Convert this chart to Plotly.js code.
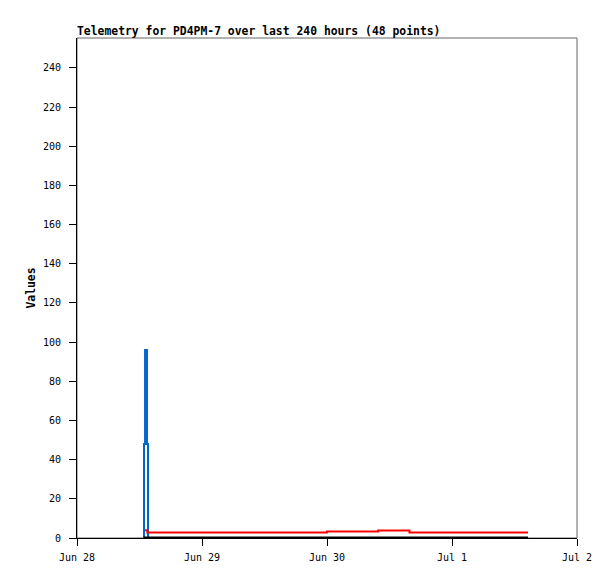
<!DOCTYPE html>
<html><head><meta charset="utf-8">
<script src="https://cdn.plot.ly/plotly-3.0.1.min.js"></script>
<style>body{margin:0;background:#fff}#c{width:615px;height:579px}</style>
</head><body><div id="c"></div>
<script>
// Blue series (spike)
const blueTimes = ["2024-06-28 12:52","2024-06-28 12:52","2024-06-28 13:04","2024-06-28 13:04","2024-06-28 13:26","2024-06-28 13:26","2024-06-28 13:38","2024-06-28 13:38"];
const blueValues = [0, 48, 48, 96, 96, 48, 48, 0];
// Red series (step)
const redTimes = ["2024-06-28 13:04","2024-06-28 13:30","2024-06-30 00:00","2024-06-30 09:50","2024-06-30 15:50","2024-07-01 14:36"];
const redValues = [4, 2.8, 3.3, 3.8, 2.8, 2.8];
// Black series (zero)
const blackTimes = ["2024-06-28 12:46","2024-07-01 14:36"];
const blackValues = [0, 0];
const xTicks = ["2024-06-28","2024-06-29","2024-06-30","2024-07-01","2024-07-02"];
const xTickLabels = ["Jun 28","Jun 29","Jun 30","Jul 1","Jul 2"];
const yTicks = [0,20,40,60,80,100,120,140,160,180,200,220,240];

const mono = "DejaVu Sans Mono, monospace";
const traces = [
  {x: blueTimes, y: blueValues, mode: "lines", line: {color: "#0066cc", width: 2}, hoverinfo: "skip"},
  {x: redTimes, y: redValues, mode: "lines", line: {color: "#ff0000", width: 2, shape: "hv"}, hoverinfo: "skip"},
  {x: blackTimes, y: blackValues, mode: "lines", line: {color: "#000000", width: 3}, hoverinfo: "skip"}
];
const layout = {
  width: 615, height: 579,
  margin: {l: 77, r: 38, t: 38, b: 41},
  paper_bgcolor: "#fff", plot_bgcolor: "#fff",
  showlegend: false,
  font: {family: mono, size: 10, color: "#000"},
  title: {text: "<b>Telemetry for PD4PM-7 over last 240 hours (48 points)</b>", x: 77/615, xanchor: "left", y: 1 - 31.5/579, yanchor: "middle", font: {family: mono, size: 11.4, color: "#000"}},
  xaxis: {type: "date", range: ["2024-06-28","2024-07-02"], tickvals: xTicks, ticktext: xTickLabels,
    showgrid: false, zeroline: false, showline: true, linecolor: "#000", linewidth: 1,
    ticks: "outside", ticklen: 7, tickcolor: "#000", tickfont: {family: mono, size: 10}, ticklabelstandoff: 3},
  yaxis: {range: [0, 255.3], tickvals: yTicks, showgrid: false, zeroline: false, showline: true, linecolor: "#000", linewidth: 1,
    ticks: "outside", ticklen: 7, tickcolor: "#000", tickfont: {family: mono, size: 10}, ticklabelstandoff: 6,
    title: {text: "<b>Values</b>", font: {family: mono, size: 11.4}, standoff: 4}},
  shapes: [{type: "rect", xref: "paper", yref: "paper", x0: 0, x1: 1, y0: 0, y1: 1, line: {color: "#666", width: 1}, layer: "below"}]
};
Plotly.newPlot("c", traces, layout, {staticPlot: true, displayModeBar: false});
</script></body></html>
